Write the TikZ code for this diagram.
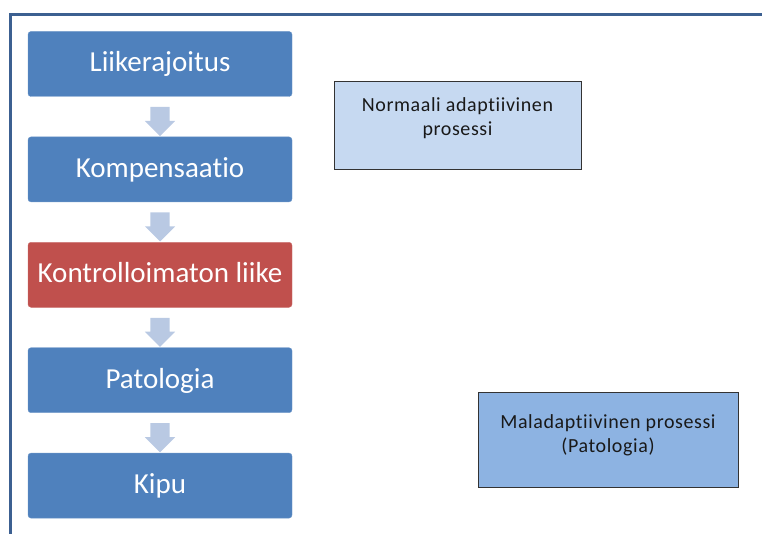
\documentclass[tikz,border=0pt]{standalone}
\usepackage{fontspec}
\setmainfont{Carlito}[Ligatures=NoCommon]
\newfontfamily\notefont{Carlito}[Ligatures=NoCommon, LetterSpace=3]
\usetikzlibrary{positioning, shapes.arrows, calc}

\definecolor{flowblue}{RGB}{79,129,189}
\definecolor{flowred}{RGB}{192,80,77}
\definecolor{arrowgray}{RGB}{185,201,227}
\definecolor{framecol}{RGB}{60,96,145}
\definecolor{lightbox}{RGB}{198,217,241}
\definecolor{midbox}{RGB}{141,179,226}

\begin{document}
\begin{tikzpicture}[
		x=1pt, y=1pt,
		node distance=40pt,
		flowbox/.style={rectangle, rounded corners=3pt, fill=flowblue, draw=flowblue!85!white, minimum width=264pt, minimum height=65pt, text=white, text height=20pt, text depth=4pt, font=\fontsize{29}{34}\selectfont},
		downarrow/.style={single arrow, shape border rotate=270, fill=arrowgray, inner sep=9.5pt, minimum height=27pt, minimum width=30pt, single arrow head extend=5.5pt},
		notebox/.style={rectangle, draw=black!80, thick, inner sep=0pt},
		notetext/.style={align=center, font=\notefont\fontsize{20}{24}\selectfont, text=black!90}
		]
		
		\useasboundingbox (0,0) rectangle (762,-534);
		
		% Frame
		\draw[framecol, line width=3pt] (10.5,-534) |- (762,-14.5);
		
		% Flow
		\node (raja) [flowbox] at (160,-64) {Liikerajoitus};
		\node (komp) [flowbox, below=of raja] {Kompensaatio};
		\node (kontr) [flowbox, below=of komp, fill=flowred, draw=flowred!85!white] {Kontrolloimaton liike};
		\node (pato) [flowbox, below=of kontr] {Patologia};
		\node (kipu) [flowbox, below=of pato] {Kipu};
		
		% Arrows
		\node (n1) [downarrow] at ($(raja.south)!0.5!(komp.north)$) {};
		\node (n2) [downarrow] at ($(komp.south)!0.5!(kontr.north)$) {};
		\node (n3) [downarrow] at ($(kontr.south)!0.5!(pato.north)$) {};
		\node (n4) [downarrow] at ($(pato.south)!0.5!(kipu.north)$) {};
		
		% Notes
		\node (normaali) [notebox, fill=lightbox, minimum width=247pt, minimum height=88pt] at (457.5,-125) {};
		\node (normaalitxt) [notetext, anchor=north] at ([yshift=-13pt]normaali.north) {Normaali adaptiivinen\\prosessi};
		
		\node (malad) [notebox, fill=midbox, minimum width=260pt, minimum height=95pt] at (608,-439.5) {};
		\node (maladtxt) [notetext, anchor=north] at ([yshift=-19pt]malad.north) {Maladaptiivinen prosessi\\(Patologia)};
		
	\end{tikzpicture}
\end{document}
